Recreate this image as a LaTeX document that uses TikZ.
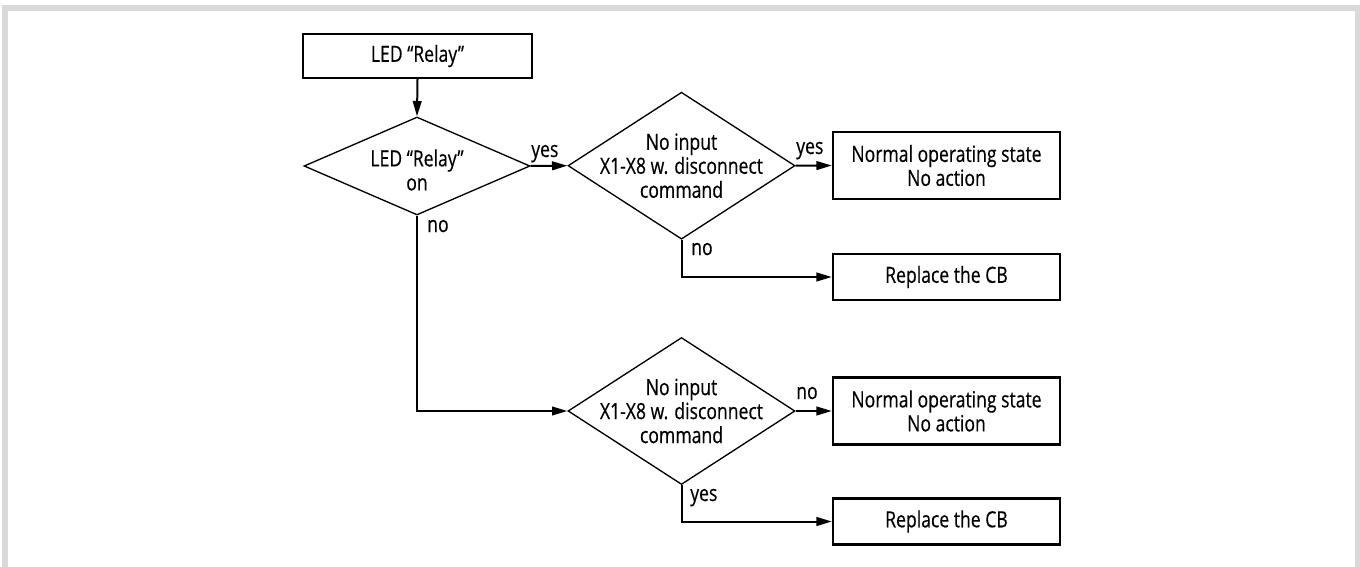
\documentclass[tikz,border=0pt]{standalone}
\usepackage{fontspec}
\setmainfont{Open Sans}[FakeStretch=0.79,FakeBold=0.4]
\usetikzlibrary{shapes.geometric,arrows.meta}
\definecolor{framegray}{HTML}{D9D9D9}
\tikzset{
  every node/.style={font=\fontsize{16.7pt}{18pt}\selectfont},
  box/.style={draw, line width=1.8pt, rectangle, inner sep=0pt, align=center},
  dec/.style={draw, line width=1pt, diamond, inner sep=0pt},
  dectext/.style={align=center, inner sep=0pt},
  lbl/.style={inner sep=0pt, anchor=base west},
  arr/.style={line width=1.5pt, -{Triangle[length=11.5pt,width=6.5pt]}},
}
\begin{document}
\begin{tikzpicture}[x=0.75pt,y=-0.75pt]
  \useasboundingbox (0,0) rectangle (1360,567);
  % page frame
  \fill[framegray] (2,5) rectangle (1360,11);
  \fill[framegray] (2,5) rectangle (8,567);
  \fill[framegray] (1355,5) rectangle (1360,567);

  % start box and first decision
  \node[box, minimum width=171.75pt, minimum height=33pt] (start) at (417.5,56) {LED “Relay”};
  \node[dec, minimum width=169.5pt, minimum height=73.5pt] (d1) at (417,166) {};
  \node[dectext, yshift=-3pt] (t1) at (d1) {LED “Relay”\\on};

  % upper decision branch
  \node[dec, minimum width=170.25pt, minimum height=110.25pt] (d2) at (681.5,165.7) {};
  \node[dectext] (t2) at (d2) {No input\\X1-X8 w. disconnect\\command};
  \node[box, minimum width=170.25pt, minimum height=50.25pt] (b2) at (946.5,165.5) {Normal operating state\\No action};
  \node[box, minimum width=170.25pt, minimum height=34.5pt] (r1) at (946.5,277) {Replace the CB};

  % lower decision branch
  \node[dec, minimum width=170.25pt, minimum height=110.25pt] (d3) at (681.5,411) {};
  \node[dectext] (t3) at (d3) {No input\\X1-X8 w. disconnect\\command};
  \node[box, minimum width=170.25pt, minimum height=50.25pt] (b3) at (946.5,411) {Normal operating state\\No action};
  \node[box, minimum width=170.25pt, minimum height=34.5pt] (r2) at (946.5,521.5) {Replace the CB};

  % connectors
  \draw[arr] (start.south) -- (d1.north);
  \draw[arr] (d1.east) -- (d2.west);
  \draw[arr] (d1.south) |- (d3.west);
  \draw[arr] (d2.east) -- (b2.west);
  \draw[arr] (d2.south) |- (r1.west);
  \draw[arr] (d3.east) -- (b3.west);
  \draw[arr] (d3.south) |- (r2.west);

  % branch labels
  \node[lbl] (l1) at (531,157) {yes};
  \node[lbl] (l2) at (427,232) {no};
  \node[lbl] (l3) at (796,154) {yes};
  \node[lbl] (l4) at (691,255) {no};
  \node[lbl] (l5) at (796,399) {no};
  \node[lbl] (l6) at (690,501) {yes};
\end{tikzpicture}
\end{document}
